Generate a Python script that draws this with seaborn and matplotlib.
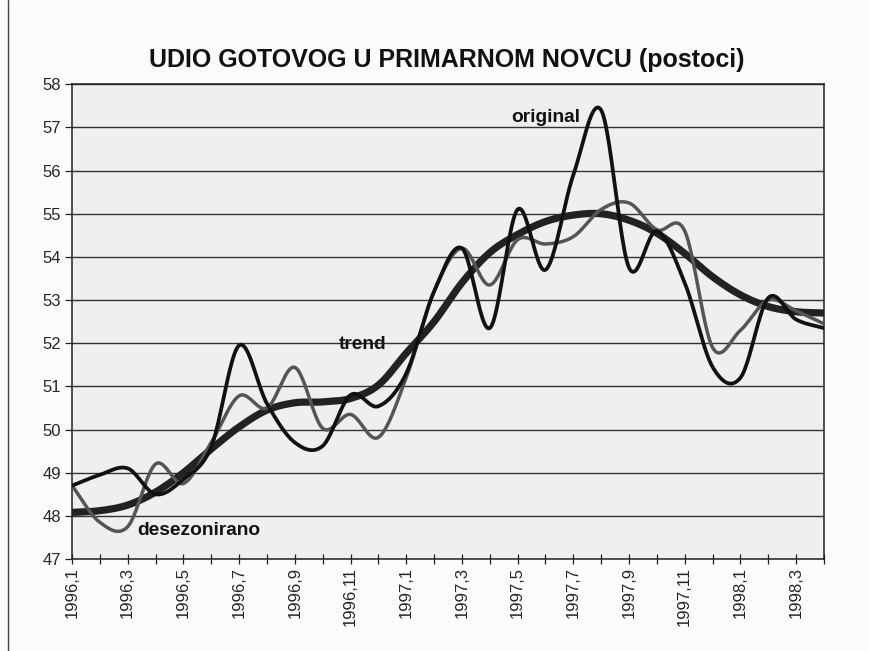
import numpy as np
import pandas as pd
import seaborn as sns
import matplotlib
matplotlib.use("Agg")
import matplotlib.pyplot as plt
from matplotlib.lines import Line2D

# ---------------- data (monthly, 1996,1 .. 1998,4) ----------------
months = ["1996,1", "1996,2", "1996,3", "1996,4", "1996,5", "1996,6", "1996,7",
          "1996,8", "1996,9", "1996,10", "1996,11", "1996,12", "1997,1", "1997,2",
          "1997,3", "1997,4", "1997,5", "1997,6", "1997,7", "1997,8", "1997,9",
          "1997,10", "1997,11", "1997,12", "1998,1", "1998,2", "1998,3", "1998,4"]

original = [48.70, 48.95, 49.10, 48.50, 48.85, 49.60, 51.95, 50.60, 49.70, 49.62,
            50.80, 50.54, 51.30, 53.20, 54.20, 52.35, 55.10, 53.70, 55.90, 57.40,
            53.75, 54.60, 53.40, 51.45, 51.20, 53.05, 52.55, 52.35]

desezonirano = [48.70, 47.85, 47.75, 49.20, 48.75, 49.70, 50.78, 50.50, 51.44, 50.03,
                50.35, 49.82, 51.20, 53.20, 54.20, 53.35, 54.40, 54.30, 54.47, 55.10,
                55.25, 54.63, 54.60, 51.90, 52.30, 53.00, 52.75, 52.45]

trend = [48.08, 48.12, 48.25, 48.55, 49.00, 49.55, 50.06, 50.45, 50.62, 50.64,
         50.72, 51.03, 51.77, 52.50, 53.40, 54.10, 54.52, 54.82, 54.97, 55.00,
         54.85, 54.55, 54.08, 53.54, 53.12, 52.85, 52.73, 52.70]

tick_labels = months[::2]
y_ticks = list(range(47, 59))
title = "UDIO GOTOVOG U PRIMARNOM NOVCU (postoci)"


def smoothed(values, name, steps=24):
    """Excel-style 'smoothed line' rendering (Catmull-Rom through the data points)."""
    y = np.asarray(values, dtype=float)
    p = np.concatenate([[2 * y[0] - y[1]], y, [2 * y[-1] - y[-2]]])
    xs, ys = [], []
    for i in range(len(y) - 1):
        m0 = (p[i + 2] - p[i]) / 2.0
        m1 = (p[i + 3] - p[i + 1]) / 2.0
        t = np.linspace(0, 1, steps, endpoint=(i == len(y) - 2))
        h00 = 2 * t**3 - 3 * t**2 + 1
        h10 = t**3 - 2 * t**2 + t
        h01 = -2 * t**3 + 3 * t**2
        h11 = t**3 - t**2
        ys.append(h00 * y[i] + h10 * m0 + h01 * y[i + 1] + h11 * m1)
        xs.append(i + t)
    return pd.DataFrame({"x": np.concatenate(xs), "y": np.concatenate(ys), "serija": name})


sns.set_theme(style="white")
plt.rcParams["font.family"] = ["Liberation Sans", "DejaVu Sans"]

W, H = 870, 651
fig = plt.figure(figsize=(W / 100, H / 100), dpi=100, facecolor="#fbfbfb")
ax = fig.add_axes([72 / W, 1 - 559 / H, (824 - 72) / W, (559 - 84.3) / H])
ax.set_facecolor("#efefef")

sns.lineplot(data=smoothed(trend, "trend"), x="x", y="y", ax=ax, color="#222222",
             lw=5.2, estimator=None, sort=False, zorder=3)
sns.lineplot(data=smoothed(desezonirano, "desezonirano"), x="x", y="y", ax=ax,
             color="#555555", lw=2.5, estimator=None, sort=False, zorder=4)
sns.lineplot(data=smoothed(original, "original"), x="x", y="y", ax=ax,
             color="#111111", lw=2.7, estimator=None, sort=False, zorder=5)

ax.set_xlim(0, len(months) - 1)
ax.set_ylim(47, 58)
ax.set_yticks(y_ticks)
ax.set_yticklabels([str(v) for v in y_ticks], fontsize=12)
ax.set_xticks(range(0, len(months), 2))
ax.set_xticklabels(tick_labels, rotation=90, fontsize=12)
ax.set_xticks(range(1, len(months), 2), minor=True)
ax.tick_params(axis="x", which="both", direction="inout", length=7, width=0.9,
               color="#222222", bottom=True, pad=2)
ax.tick_params(axis="y", which="major", direction="out", length=5, width=0.9,
               color="#222222", left=True, pad=3)
ax.set_xlabel("")
ax.set_ylabel("")

ax.yaxis.grid(True, color="#333333", lw=1.0)
ax.xaxis.grid(False)
ax.set_axisbelow(True)
for s in ax.spines.values():
    s.set_visible(True)
    s.set_color("#222222")
    s.set_linewidth(1.1)

ax.text(17.0, 57.22, "original", ha="center", va="center", fontsize=13.8,
        fontweight="bold", color="#111111", zorder=6)
ax.text(10.45, 51.97, "trend", ha="center", va="center", fontsize=13.8,
        fontweight="bold", color="#111111", zorder=6)
ax.text(4.55, 47.66, "desezonirano", ha="center", va="center", fontsize=13.8,
        fontweight="bold", color="#111111", zorder=6)

fig.text(0.514, 1 - 60 / H, title, ha="center", va="center", fontsize=18,
         fontweight="bold", color="#111111")

fig.add_artist(Line2D([8 / W, 8 / W], [0, 1], transform=fig.transFigure,
                      color="#444444", lw=1.0))

fig.savefig("out.png", dpi=100, facecolor=fig.get_facecolor())
